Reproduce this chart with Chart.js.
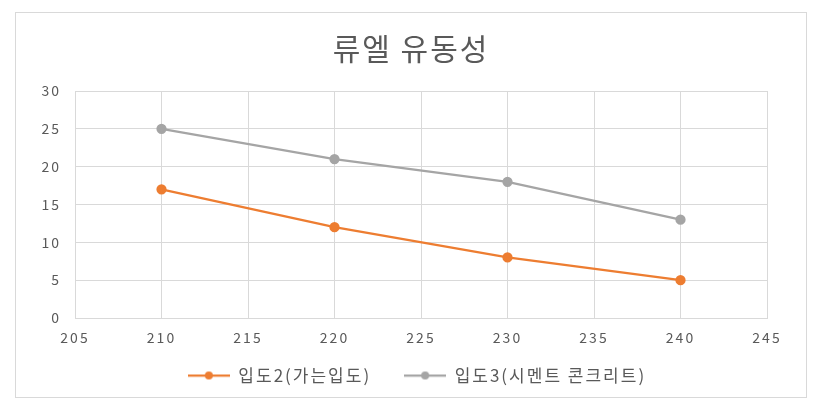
<!DOCTYPE html>
<html>
<head>
<meta charset="utf-8">
<script src="https://cdn.jsdelivr.net/npm/chart.js@4"></script>
<style>
  body { margin: 0; background: #fff; }
  #box { position: absolute; left: 15px; top: 12px; width: 790px; height: 384px; border: 1px solid #d9d9d9; }
</style>
</head>
<body>
<div id="box"><canvas id="c" width="790" height="384"></canvas></div>
<script>
const X_VALUES = [210, 220, 230, 240];
const FINE = [17, 12, 8, 5];
const CEMENT = [25, 21, 18, 13];
const SERIES_NAMES = ["입도2(가는입도)", "입도3(시멘트 콘크리트)"];
const COLORS = ["#ed7d31", "#a5a5a5"];
const FONT = "'Noto Sans CJK KR', 'Noto Sans', sans-serif";
const TEXT = "#595959";

function toPoints(ys) {
  return X_VALUES.map((x, i) => ({ x: x, y: ys[i] }));
}

// line + marker icon, like the Excel legend
function legendIcon(color) {
  const cv = document.createElement("canvas");
  cv.width = 42; cv.height = 10;
  const g = cv.getContext("2d");
  g.strokeStyle = color; g.lineWidth = 2.25;
  g.beginPath(); g.moveTo(0, 5); g.lineTo(42, 5); g.stroke();
  g.fillStyle = color;
  g.beginPath(); g.arc(21, 5, 4, 0, Math.PI * 2); g.fill();
  return cv;
}

// Excel-ish tweaks: wider letters, title/legend centred on the whole box,
// more room between legend items without a taller legend
const excelLook = {
  id: "excelLook",
  beforeUpdate(chart) {
    chart.ctx.letterSpacing = "2px";
    const lg = chart.legend;
    if (lg && !lg._patched) {
      const fit = lg.fit;
      lg.fit = function () { fit.call(this); this.height -= 13; };
      lg._patched = true;
    }
  },
  afterLayout(chart) {
    const t = chart.titleBlock;
    if (t) { t.left = 0; t.right = chart.width; }
    const lg = chart.legend;
    if (lg) { lg.left = 12; lg.right = chart.width; lg.top -= 12; lg.bottom = chart.height; }
  },
  beforeDraw(chart) { chart.ctx.letterSpacing = "2px"; },
};

const datasets = [FINE, CEMENT].map((ys, i) => ({
  label: SERIES_NAMES[i],
  data: toPoints(ys),
  borderColor: COLORS[i],
  backgroundColor: COLORS[i],
  borderWidth: 2.25,
  pointRadius: 4,
  pointHoverRadius: 4,
  tension: 0,
}));

new Chart(document.getElementById("c"), {
  type: "line",
  data: { datasets: datasets },
  plugins: [excelLook],
  options: {
    responsive: false,
    animation: false,
    layout: { padding: { left: 10, right: 39, top: 0, bottom: 4 } },
    plugins: {
      title: {
        display: true,
        text: "류엘 유동성",
        color: TEXT,
        font: { family: FONT, size: 30, weight: "normal" },
        padding: { top: 18, bottom: 24 },
      },
      legend: {
        position: "bottom",
        labels: {
          color: TEXT,
          font: { family: FONT, size: 17 },
          usePointStyle: true,
          pointStyleWidth: 42,
          boxHeight: 10,
          padding: 33,
          generateLabels: (chart) => chart.data.datasets.map((ds, i) => ({
            text: ds.label,
            fontColor: TEXT,
            pointStyle: legendIcon(COLORS[i]),
            datasetIndex: i,
            lineWidth: 0,
            strokeStyle: "transparent",
            fillStyle: "transparent",
          })),
        },
      },
      tooltip: { enabled: false },
    },
    scales: {
      x: {
        type: "linear",
        min: 205,
        max: 245,
        ticks: { stepSize: 5, color: TEXT, font: { family: FONT, size: 14 }, padding: 11 },
        grid: { color: "#d9d9d9", drawTicks: false },
        border: { color: "#d9d9d9" },
        afterFit: (s) => { s.height = 28; },
      },
      y: {
        min: 0,
        max: 30,
        ticks: { stepSize: 5, color: TEXT, font: { family: FONT, size: 14 }, padding: 14 },
        grid: { color: "#d9d9d9", drawTicks: false },
        border: { color: "#d9d9d9" },
        afterFit: (s) => { s.width = 49; },
      },
    },
  },
});
</script>
</body>
</html>
